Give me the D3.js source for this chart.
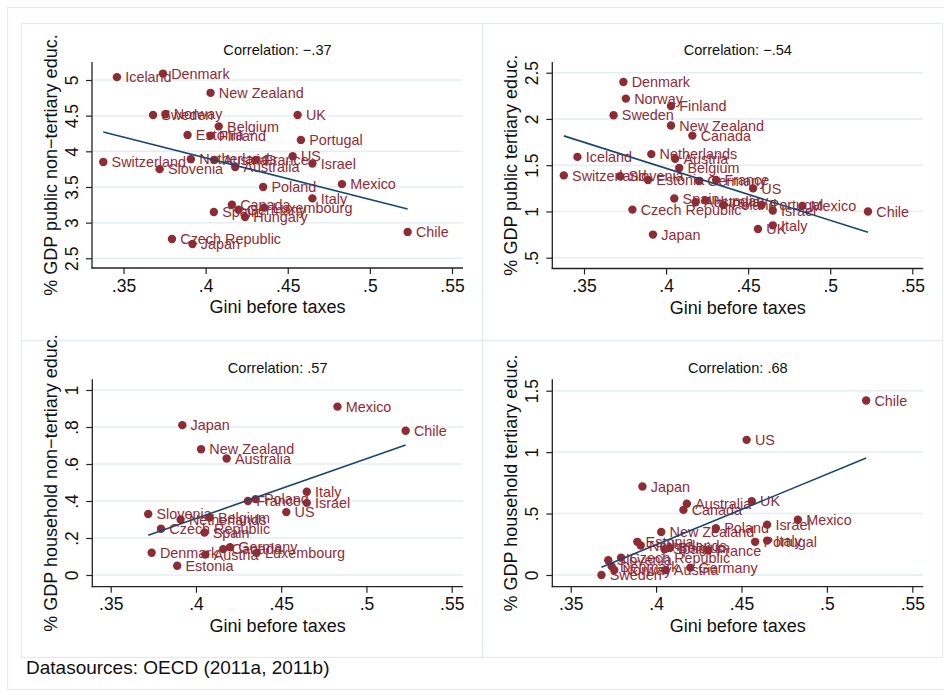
<!DOCTYPE html>
<html>
<head>
<meta charset="utf-8">
<script src="https://cdn.jsdelivr.net/npm/d3@7"></script>
<style>
  html, body { margin: 0; padding: 0; background: #ffffff; }
  svg { display: block; font-family: "Liberation Sans", Arial, Helvetica, sans-serif; }
</style>
</head>
<body>
<svg id="chart" width="944" height="695"></svg>
<script>
// Countries and their Gini coefficient before taxes and transfers
const countries = ["Australia","Austria","Belgium","Canada","Chile","Czech Republic","Denmark","Estonia",
  "Finland","France","Germany","Hungary","Iceland","Israel","Italy","Japan","Luxembourg","Mexico",
  "Netherlands","New Zealand","Norway","Poland","Portugal","Slovenia","Spain","Sweden","Switzerland","UK","US"];
const gini = [0.418,0.4055,0.408,0.416,0.523,0.3795,0.374,0.389,
  0.403,0.4305,0.420,0.424,0.346,0.465,0.465,0.392,0.4356,0.483,
  0.391,0.403,0.3755,0.435,0.458,0.372,0.405,0.368,0.3377,0.456,0.453];

// Spending on education, % of GDP (null = not reported)
const publicNonTertiary = [3.78,3.88,4.35,3.25,2.87,2.77,5.09,4.23,
  4.22,3.88,3.18,3.08,5.04,3.83,3.34,2.70,3.21,3.54,
  3.89,4.82,4.52,3.50,4.16,3.75,3.15,4.51,3.85,4.51,3.93];
const publicTertiary = [1.10,1.57,1.47,1.82,1.00,1.02,2.40,1.34,
  2.14,1.34,1.33,1.12,1.59,1.01,0.85,0.75,null,1.06,
  1.62,1.93,2.22,1.07,1.07,1.38,1.14,2.04,1.39,0.81,1.25];
const householdNonTertiary = [0.63,0.11,0.31,0.14,0.78,0.25,0.12,0.05,
  null,0.40,0.15,null,null,0.39,0.45,0.81,0.12,0.91,
  0.30,0.68,null,0.41,null,0.33,0.23,null,null,null,0.34];
const householdTertiary = [0.58,0.04,0.22,0.53,1.42,0.14,0.07,0.27,
  null,0.20,0.06,null,null,0.41,0.28,0.72,null,0.45,
  0.24,0.35,0.04,0.38,0.27,0.12,0.21,0.00,null,0.60,1.10];

// Axis ticks
const xTicks = [0.35,0.40,0.45,0.50,0.55];
const xTickLabels = [".35",".4",".45",".5",".55"];
const yTicksPublicNon = [2.5,3,3.5,4,4.5,5];
const yLabelsPublicNon = ["2.5","3","3.5","4","4.5","5"];
const yTicksPublicTer = [0.5,1,1.5,2,2.5];
const yLabelsPublicTer = [".5","1","1.5","2","2.5"];
const yTicksHouseNon = [0,0.2,0.4,0.6,0.8,1];
const yLabelsHouseNon = ["0",".2",".4",".6",".8","1"];
const yTicksHouseTer = [0,0.5,1,1.5];
const yLabelsHouseTer = ["0",".5","1","1.5"];

// Panel titles
const panelTitles = ["Correlation: \u2212.37","Correlation: \u2212.54","Correlation: .57","Correlation: .68"];
const yTitles = ["% GDP public non\u2212tertiary educ.","% GDP public tertiary educ.",
  "% GDP household non\u2212tertiary educ.","% GDP household tertiary educ."];
const xTitle = "Gini before taxes";
const note = "Datasources: OECD (2011a, 2011b)";

const MARKER = "#8e2c35";
const FIT = "#1a476f";
const GRID = "#e6eef1";
const BORDER = "#e3ebee";

// Layout of the four panels: panel frame, plot area and pixel span of the first/last tick
const layout = [
  { frame:[21,23,482,340], plot:[92,463,62,268],   xr:[123.5,452],  yr:[258.3,80] },
  { frame:[482,23,942,340], plot:[552.3,923.3,62,268.5], xr:[584,912.3], yr:[257.7,72.7] },
  { frame:[21,340,482,657], plot:[92.3,463,379.3,586.7], xr:[110.7,451.7], yr:[575,390] },
  { frame:[482,340,942,657], plot:[552.3,923.3,379.3,586.7], xr:[570.7,912.3], yr:[575,390.7] }
];
const series = [publicNonTertiary, publicTertiary, householdNonTertiary, householdTertiary];
const yTickSets = [yTicksPublicNon, yTicksPublicTer, yTicksHouseNon, yTicksHouseTer];
const yLabelSets = [yLabelsPublicNon, yLabelsPublicTer, yLabelsHouseNon, yLabelsHouseTer];

const svg = d3.select("#chart");
svg.append("rect").attr("width",944).attr("height",695).attr("fill","#fff");
// outer frame of the combined graph
svg.append("rect").attr("x",7.5).attr("y",7.5).attr("width",950).attr("height",682)
  .attr("fill","none").attr("stroke",BORDER).attr("stroke-width",1.2);

function linearFit(xs, ys) {
  const n = xs.length;
  const mx = d3.mean(xs), my = d3.mean(ys);
  let sxy = 0, sxx = 0;
  for (let i = 0; i < n; i++) { sxy += (xs[i]-mx)*(ys[i]-my); sxx += (xs[i]-mx)*(xs[i]-mx); }
  const b = sxy / sxx;
  return { a: my - b*mx, b };
}

series.forEach((vals, p) => {
  const L = layout[p];
  const [pl, pr, pt, pb] = L.plot;
  const yTicks = yTickSets[p], yLabels = yLabelSets[p];
  const g = svg.append("g");

  g.append("rect").attr("x",L.frame[0]+0.5).attr("y",L.frame[1]+0.5)
    .attr("width",L.frame[2]-L.frame[0]).attr("height",L.frame[3]-L.frame[1])
    .attr("fill","none").attr("stroke",BORDER).attr("stroke-width",1.2);

  const x = d3.scaleLinear().domain([xTicks[0], xTicks[xTicks.length-1]]).range(L.xr);
  const y = d3.scaleLinear().domain([yTicks[0], yTicks[yTicks.length-1]]).range(L.yr);

  // horizontal gridlines
  g.append("g").selectAll("line").data(yTicks).join("line")
    .attr("x1",pl).attr("x2",pr).attr("y1",d=>y(d)).attr("y2",d=>y(d))
    .attr("stroke",GRID).attr("stroke-width",1.5);

  // axes
  const ya = g.append("g").attr("transform",`translate(${pl},0)`)
    .call(d3.axisLeft(y).tickValues(yTicks).tickFormat((d,i)=>yLabels[i]).tickSize(6).tickPadding(0));
  ya.select(".domain").remove();
  ya.selectAll(".tick line").attr("stroke","#222").attr("stroke-width",1.2);
  ya.selectAll(".tick text").attr("x",null).attr("dy",null)
    .attr("transform","translate(-14.5,0) rotate(-90)")
    .attr("text-anchor","middle").attr("fill","#111").style("font-size","17.5px");

  const xa = g.append("g").attr("transform",`translate(0,${pb})`)
    .call(d3.axisBottom(x).tickValues(xTicks).tickFormat((d,i)=>xTickLabels[i]).tickSize(6).tickPadding(0));
  xa.select(".domain").remove();
  xa.selectAll(".tick line").attr("stroke","#222").attr("stroke-width",1.2);
  xa.selectAll(".tick text").attr("y",23.5).attr("dy",null)
    .attr("fill","#111").style("font-size","17.5px");

  g.append("line").attr("x1",pl).attr("x2",pl).attr("y1",pt).attr("y2",pb+0.6)
    .attr("stroke","#222").attr("stroke-width",1.3);
  g.append("line").attr("x1",pl-0.6).attr("x2",pr).attr("y1",pb).attr("y2",pb)
    .attr("stroke","#222").attr("stroke-width",1.3);

  // titles
  g.append("text").attr("x",(pl+pr)/2).attr("y",pt-6.8).attr("text-anchor","middle")
    .attr("fill","#111").style("font-size","14.6px").text(panelTitles[p]);
  g.append("text").attr("x",(pl+pr)/2).attr("y",pb+45).attr("text-anchor","middle")
    .attr("fill","#111").style("font-size","18px").text(xTitle);
  g.append("text").attr("transform",`translate(${pl-35.5},${(pt+pb)/2}) rotate(-90)`)
    .attr("text-anchor","middle").attr("fill","#111").style("font-size","18px").text(yTitles[p]);

  // points present in this panel
  const pts = countries.map((c,i)=>({name:c, gx:gini[i], v:vals[i]})).filter(d=>d.v !== null);

  // labels, then markers on top
  g.append("g").selectAll("text").data(pts).join("text")
    .attr("x",d=>x(d.gx)+8.3).attr("y",d=>y(d.v)).attr("dy","0.36em")
    .attr("fill",MARKER).style("font-size","14.4px").text(d=>d.name);
  g.append("g").selectAll("circle").data(pts).join("circle")
    .attr("cx",d=>x(d.gx)).attr("cy",d=>y(d.v)).attr("r",4.2).attr("fill",MARKER);

  // least-squares fit over the observed range
  const fit = linearFit(pts.map(d=>d.gx), pts.map(d=>d.v));
  const ext = d3.extent(pts, d=>d.gx);
  g.append("line")
    .attr("x1",x(ext[0])).attr("y1",y(fit.a+fit.b*ext[0]))
    .attr("x2",x(ext[1])).attr("y2",y(fit.a+fit.b*ext[1]))
    .attr("stroke",FIT).attr("stroke-width",1.6);
});

svg.append("text").attr("x",26).attr("y",674).attr("fill","#111")
  .style("font-size","19px").text(note);
</script>
</body>
</html>
